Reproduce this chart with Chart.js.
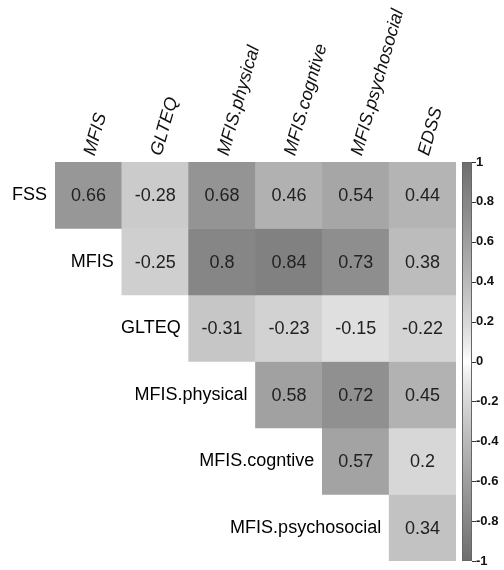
<!DOCTYPE html>
<html>
<head>
<meta charset="utf-8">
<script src="https://cdn.jsdelivr.net/npm/chart.js@4.4.1/dist/chart.umd.min.js"></script>
<style>
  html, body { margin: 0; padding: 0; background: #fff; }
  #wrap { width: 504px; height: 570px; position: relative; }
</style>
</head>
<body>
<div id="wrap"><canvas id="myChart"></canvas></div>
<script>
const columns = ['MFIS', 'GLTEQ', 'MFIS.physical', 'MFIS.cogntive', 'MFIS.psychosocial', 'EDSS'];
const rows = ['FSS', 'MFIS', 'GLTEQ', 'MFIS.physical', 'MFIS.cogntive', 'MFIS.psychosocial'];

// upper triangle only, null = empty cell
const fssRow      = [0.66, -0.28, 0.68, 0.46, 0.54, 0.44];
const mfisRow     = [null, -0.25, 0.8, 0.84, 0.73, 0.38];
const glteqRow    = [null, null, -0.31, -0.23, -0.15, -0.22];
const physicalRow = [null, null, null, 0.58, 0.72, 0.45];
const cognitiveRow = [null, null, null, null, 0.57, 0.2];
const psychoRow   = [null, null, null, null, null, 0.34];
const values = [fssRow, mfisRow, glteqRow, physicalRow, cognitiveRow, psychoRow];

const colorbarTicks = [1, 0.8, 0.6, 0.4, 0.2, 0, -0.2, -0.4, -0.6, -0.8, -1];

function grayFor(v) {
    const g = Math.round(255 - 145 * Math.pow(Math.abs(v), 0.8));
    return 'rgb(' + g + ',' + g + ',' + g + ')';
}

const datasets = values.map((row, r) => ({
    label: rows[r],
    data: row.map(v => v === null ? null : [r - 0.5, r + 0.5]),
    backgroundColor: row.map(v => v === null ? 'rgba(0,0,0,0)' : grayFor(v)),
    borderWidth: 0,
    barPercentage: 1,
    categoryPercentage: 1,
    grouped: false
}));

// cell numbers, row names and the colour bar
const heatPlugin = {
    id: 'heatPlugin',
    afterDatasetsDraw(chart) {
        const ctx = chart.ctx;
        ctx.save();
        ctx.textAlign = 'center';
        ctx.textBaseline = 'middle';
        ctx.font = '18px "Liberation Sans", Arial, sans-serif';
        ctx.fillStyle = '#222';
        values.forEach((row, r) => {
            const meta = chart.getDatasetMeta(r);
            row.forEach((v, c) => {
                if (v === null) return;
                const p = meta.data[c].getCenterPoint();
                ctx.fillText(String(v), p.x, p.y + 1);
            });
        });

        // row labels next to the first cell of each row
        ctx.textAlign = 'right';
        ctx.font = '18px "Liberation Sans", Arial, sans-serif';
        ctx.fillStyle = '#000';
        values.forEach((row, r) => {
            const c = row.findIndex(v => v !== null);
            const el = chart.getDatasetMeta(r).data[c];
            const p = el.getCenterPoint();
            ctx.fillText(rows[r], el.x - el.width / 2 - 8, p.y);
        });

        // colour bar
        const cb = chart.scales.cb;
        const top = cb.getPixelForValue(1);
        const bottom = cb.getPixelForValue(-1);
        const x0 = cb.left + 6, x1 = cb.left + 16;
        const grad = ctx.createLinearGradient(0, top, 0, bottom);
        for (let i = 0; i <= 40; i++) {
            grad.addColorStop(i / 40, grayFor(1 - i / 20));
        }
        ctx.fillStyle = grad;
        ctx.fillRect(x0, top, x1 - x0, bottom - top);
        ctx.strokeStyle = '#666';
        ctx.lineWidth = 1;
        ctx.strokeRect(x0 + 0.5, top + 0.5, x1 - x0 - 1, bottom - top - 1);
        ctx.beginPath();
        colorbarTicks.forEach(t => {
            const y = Math.round(cb.getPixelForValue(t)) + 0.5;
            ctx.moveTo(x1, y);
            ctx.lineTo(x1 + 4, y);
        });
        ctx.strokeStyle = '#333';
        ctx.stroke();
        ctx.restore();
    }
};

const ctx = document.getElementById('myChart').getContext('2d');
const chart = new Chart(ctx, {
    type: 'bar',
    data: {
        labels: columns,
        datasets: datasets
    },
    options: {
        responsive: true,
        maintainAspectRatio: false,
        animation: false,
        layout: {
            padding: { left: 55, top: 0, right: 0, bottom: 9 }
        },
        plugins: {
            legend: { display: false },
            tooltip: { enabled: false }
        },
        scales: {
            x: {
                position: 'top',
                grid: { display: false },
                border: { display: false },
                ticks: {
                    autoSkip: false,
                    minRotation: 74,
                    maxRotation: 74,
                    padding: -4,
                    labelOffset: 22,
                    color: '#111',
                    font: { size: 18, style: 'italic', family: '"Liberation Sans", Arial, sans-serif' }
                },
                afterFit: s => { s.height = 162; }
            },
            y: {
                type: 'linear',
                display: false,
                reverse: true,
                min: -0.5,
                max: 5.5
            },
            cb: {
                type: 'linear',
                position: 'right',
                min: -1,
                max: 1,
                grid: { display: false, tickLength: 20 },
                border: { display: false },
                afterBuildTicks: s => { s.ticks = colorbarTicks.map(v => ({ value: v })); },
                afterFit: s => { s.width = 48; },
                ticks: {
                    padding: 0,
                    color: '#111',
                    font: { size: 13, weight: 'bold', family: '"Liberation Sans", Arial, sans-serif' },
                    callback: v => String(Math.round(v * 10) / 10)
                }
            }
        }
    },
    plugins: [heatPlugin]
});
</script>
</body>
</html>
